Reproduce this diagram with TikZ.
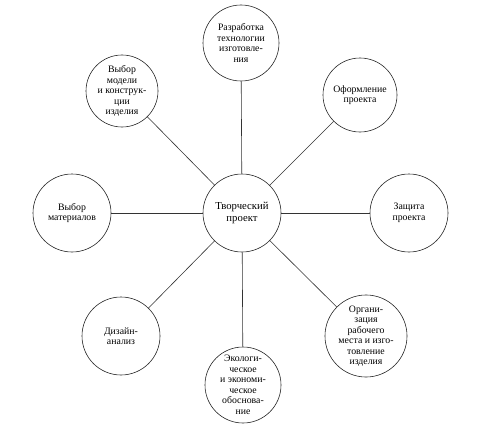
\documentclass[tikz,border=0pt]{standalone}
\usepackage{fontspec}
\setmainfont{Liberation Serif}
\begin{document}
\begin{tikzpicture}[x=1pt,y=-1pt,
  bub/.style={draw=black!85,line width=0.6pt,circle,minimum size=#1,inner sep=0pt,align=center,
    font=\fontsize{9.8}{10.5}\selectfont},
  bub/.default=76pt,
  link/.style={draw=black!80,line width=0.6pt}]
\useasboundingbox (0,0) rectangle (503,444);
\node[bub=78pt,font=\fontsize{10.7}{12.3}\selectfont] (c) at (242,213) {Творческий\\проект};
\node[bub] (t) at (241,43) {Разработка\\технологии\\изготовле-\\ния};
\node[bub=72pt] (tl) at (122,91) {Выбор\\модели\\и конструк-\\ции\\изделия};
\node[bub=74pt] (tr) at (360,95) {Оформление\\проекта};
\node[bub=78pt] (l) at (72,213) {Выбор\\материалов};
\node[bub=78pt] (r) at (409,213) {Защита\\проекта};
\node[bub=78pt] (bl) at (121,336) {Дизайн-\\анализ};
\node[bub=76pt] (b) at (243,385) {Экологи-\\ческое\\и экономи-\\ческое\\обоснова-\\ние};
\node[bub=78pt] (br) at (366,336) {Органи-\\зация\\рабочего\\места и изго-\\товление\\изделия};
\foreach \n in {t,tl,tr,l,r,bl,b,br} \draw[link] (c) -- (\n);
\end{tikzpicture}
\end{document}
